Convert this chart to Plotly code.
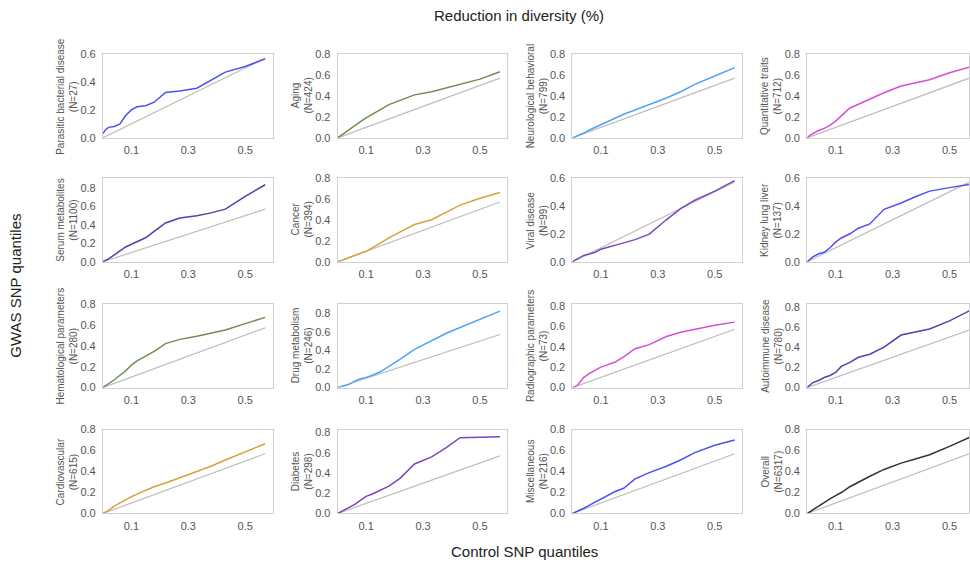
import plotly.graph_objects as go

# ---------------- data ----------------
control_q = [0, 0.01, 0.02, 0.04, 0.06, 0.08, 0.10, 0.12, 0.15, 0.18, 0.22, 0.27, 0.33, 0.38, 0.43, 0.50, 0.57]

names = ["Parasitic bacterial disease", "Aging", "Neurological behavioral", "Quantitative traits",
         "Serum metabolites", "Cancer", "Viral disease", "Kidney lung liver",
         "Hematological parameters", "Drug metabolism", "Radiographic parameters", "Autoimmune disease",
         "Cardiovascular", "Diabetes", "Miscellaneous", "Overall"]
counts = [27, 424, 799, 712, 1100, 394, 99, 137, 280, 246, 73, 780, 615, 298, 216, 6317]

parasitic = [0.03, 0.06, 0.075, 0.082, 0.10, 0.16, 0.20, 0.222, 0.23, 0.255, 0.325, 0.335, 0.355, 0.41, 0.47, 0.51, 0.565]
aging = [0, 0.02, 0.042, 0.08, 0.115, 0.155, 0.19, 0.225, 0.27, 0.317, 0.36, 0.41, 0.44, 0.476, 0.51, 0.56, 0.63]
neuro = [0, 0.01, 0.022, 0.046, 0.075, 0.10, 0.125, 0.15, 0.19, 0.225, 0.265, 0.315, 0.38, 0.44, 0.51, 0.59, 0.67]
quant = [0, 0.025, 0.04, 0.07, 0.09, 0.12, 0.16, 0.21, 0.285, 0.32, 0.37, 0.43, 0.495, 0.525, 0.555, 0.62, 0.675]
serum = [0, 0.015, 0.03, 0.075, 0.12, 0.16, 0.19, 0.215, 0.26, 0.33, 0.42, 0.475, 0.50, 0.53, 0.57, 0.71, 0.835]
cancer = [0, 0.008, 0.018, 0.04, 0.058, 0.078, 0.10, 0.13, 0.18, 0.227, 0.285, 0.355, 0.40, 0.47, 0.54, 0.605, 0.66]
viral = [0, 0.01, 0.025, 0.045, 0.056, 0.068, 0.09, 0.10, 0.115, 0.135, 0.158, 0.197, 0.30, 0.38, 0.44, 0.505, 0.58]
kidney = [0, 0.015, 0.035, 0.057, 0.068, 0.10, 0.14, 0.17, 0.20, 0.24, 0.27, 0.375, 0.42, 0.465, 0.505, 0.53, 0.553]
hemat = [0, 0.018, 0.036, 0.075, 0.118, 0.16, 0.215, 0.255, 0.30, 0.345, 0.42, 0.46, 0.49, 0.52, 0.55, 0.61, 0.67]
drug = [0, 0.008, 0.017, 0.035, 0.07, 0.095, 0.11, 0.13, 0.17, 0.225, 0.305, 0.41, 0.505, 0.58, 0.645, 0.73, 0.82]
radio = [0, 0.01, 0.03, 0.10, 0.14, 0.17, 0.20, 0.22, 0.25, 0.30, 0.38, 0.42, 0.50, 0.54, 0.57, 0.61, 0.64]
autoimm = [0, 0.03, 0.05, 0.07, 0.10, 0.12, 0.15, 0.21, 0.25, 0.30, 0.33, 0.40, 0.52, 0.55, 0.58, 0.66, 0.76]
cardio = [0, 0.012, 0.03, 0.07, 0.10, 0.135, 0.16, 0.185, 0.22, 0.255, 0.29, 0.34, 0.40, 0.45, 0.51, 0.59, 0.665]
diabetes = [0, 0.015, 0.03, 0.06, 0.09, 0.13, 0.17, 0.19, 0.23, 0.27, 0.35, 0.49, 0.56, 0.65, 0.75, 0.755, 0.76]
misc = [0, 0.012, 0.025, 0.05, 0.08, 0.11, 0.14, 0.17, 0.21, 0.24, 0.33, 0.39, 0.45, 0.51, 0.58, 0.65, 0.70]
overall = [0, 0.018, 0.035, 0.072, 0.105, 0.14, 0.17, 0.20, 0.255, 0.30, 0.355, 0.42, 0.48, 0.52, 0.56, 0.64, 0.725]

series = [parasitic, aging, neuro, quant, serum, cancer, viral, kidney,
          hemat, drug, radio, autoimm, cardio, diabetes, misc, overall]

diag = [0, 0.57]
y_top = [0.6, 0.8, 0.8, 0.8, 0.91, 0.8, 0.6, 0.6, 0.8, 0.9, 0.82, 0.83, 0.8, 0.83, 0.8, 0.8]
x_ticks = [0.1, 0.3, 0.5]

palette = ["#4f4ff5", "#6f8c52", "#4ea4f5", "#d24fd6", "#4646ad", "#d3a23f", "#7b47bb"]
colors = [palette[i % 7] for i in range(15)] + ["#333333"]

# ---------------- layout geometry (target picture pixels) ----------------
OFFY, SY = 5, 0.98          # measured vertical mapping page -> picture
W, H = 970, 572
col_left = [103, 338, 573, 808]
row_top = [53, 177, 303, 429]
pw, ph = 170, 84
px_per_unit = 285.0


def fx(px):
    return px / W


def fy(py):
    return 1 - ((py - OFFY) / SY) / H


fig = go.Figure()
annotations = []
font_family = "Liberation Sans, Arial, sans-serif"

for i in range(16):
    r, c = divmod(i, 4)
    ax = "" if i == 0 else str(i + 1)
    right_px = min(col_left[c] + pw, W)
    width_px = right_px - col_left[c]

    fig.add_trace(go.Scatter(x=diag, y=diag, mode="lines",
                             line=dict(color="#bdbdbd", width=1.2),
                             xaxis="x" + ax, yaxis="y" + ax, showlegend=False, hoverinfo="skip"))
    fig.add_trace(go.Scatter(x=control_q, y=series[i], mode="lines",
                             line=dict(color=colors[i], width=1.5),
                             xaxis="x" + ax, yaxis="y" + ax, showlegend=False))

    common = dict(showgrid=False, zeroline=False, showline=True, mirror=True,
                  linecolor="#cfcfcf", linewidth=1, ticks="",
                  tickfont=dict(family=font_family, size=11, color="#555555"))
    fig.update_layout(**{
        "xaxis" + ax: dict(domain=[fx(col_left[c]), fx(right_px)], anchor="y" + ax,
                           range=[0, width_px / px_per_unit],
                           tickmode="array", tickvals=x_ticks,
                           ticktext=["0.1", "0.3", "0.5"], ticklabelstandoff=2, **common),
        "yaxis" + ax: dict(domain=[fy(row_top[r] + ph), fy(row_top[r])], anchor="x" + ax,
                           range=[0, y_top[i]], dtick=0.2, tickformat=".1f",
                           ticklabelstandoff=4, **common),
    })
    annotations.append(dict(
        text=f"{names[i]}<br>(N={counts[i]})", textangle=-90,
        x=fx(col_left[c] - 36), y=fy(row_top[r] + ph / 2),
        xref="paper", yref="paper", xanchor="center", yanchor="middle",
        showarrow=False, font=dict(family=font_family, size=10, color="#555555")))

annotations += [
    dict(text="Reduction in diversity (%)", x=fx(520), y=fy(15), xref="paper", yref="paper",
         xanchor="center", yanchor="middle", showarrow=False,
         font=dict(family=font_family, size=15, color="#222222")),
    dict(text="Control SNP quantiles", x=fx(525), y=fy(551), xref="paper", yref="paper",
         xanchor="center", yanchor="middle", showarrow=False,
         font=dict(family=font_family, size=15, color="#222222")),
    dict(text="GWAS SNP quantiles", textangle=-90, x=fx(16), y=fy(285), xref="paper", yref="paper",
         xanchor="center", yanchor="middle", showarrow=False,
         font=dict(family=font_family, size=15, color="#222222")),
]

fig.update_layout(width=W, height=H, autosize=False,
                  margin=dict(l=0, r=0, t=0, b=0),
                  paper_bgcolor="white", plot_bgcolor="white",
                  annotations=annotations, font=dict(family=font_family))

fig.write_html("out.html", config={"displayModeBar": False},
               post_script="document.body.style.margin='0';document.body.style.overflow='hidden';")
